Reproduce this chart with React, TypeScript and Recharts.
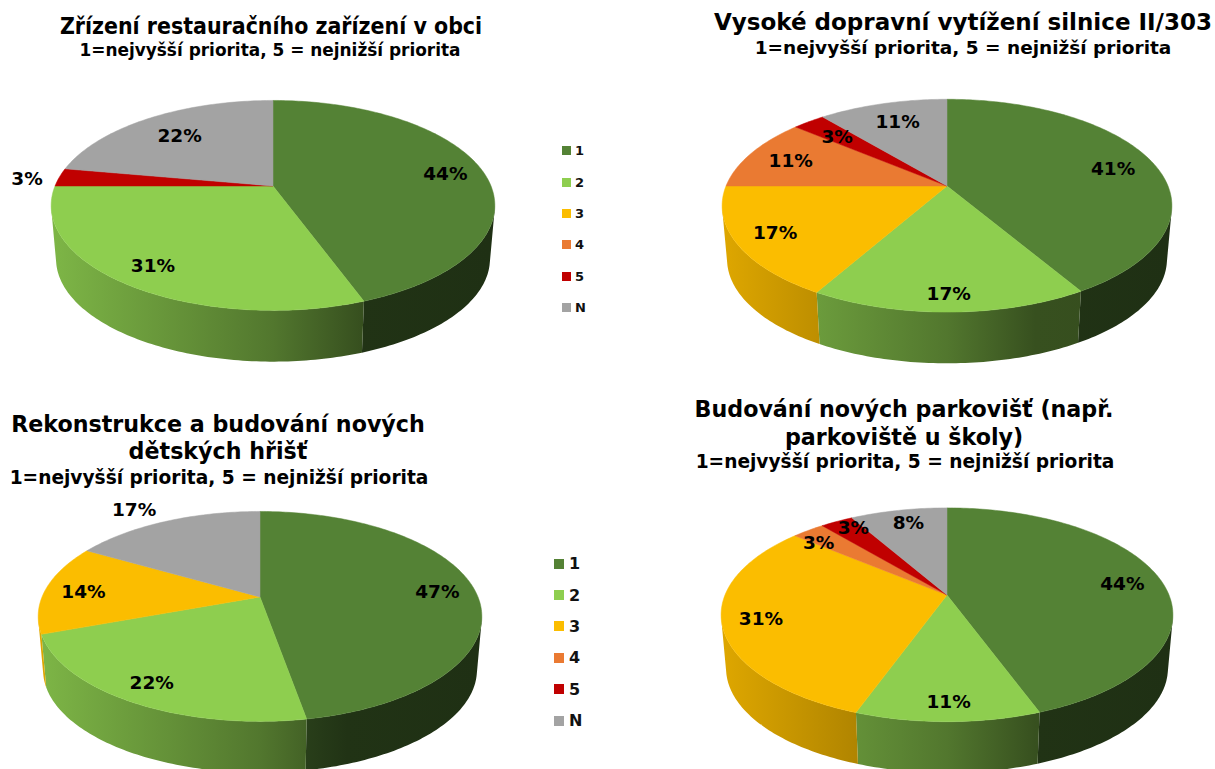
import { PieChart, Pie, Legend } from 'recharts';

const CATEGORIES = ['1', '2', '3', '4', '5', 'N'];
const PALETTE = ['#548235', '#8ECE4F', '#FBBD00', '#EA7A32', '#C00000', '#A3A3A3'];

// answers out of 36 respondents, as percentages
const RESTAURACE = [44.4, 30.6, 0, 0, 2.8, 22.2];
const DOPRAVA = [41.49, 16.75, 16.76, 11.1, 2.8, 11.1];
const HRISTE = [47.2, 22.2, 13.9, 0, 0, 16.7];
const PARKOVISTE = [44.4, 11.1, 30.6, 2.8, 2.8, 8.3];

const SUBTITLE = '1=nejvyšší priorita, 5 = nejnižší priorita';
const FONT = '"DejaVu Sans", Verdana, sans-serif';

// perspective of the tilted disc
const TILT = 0.185;
const FLATTEN = 0.465;
const WALL_SHRINK = 0.978;
const WALL_DROP = 54;

const rim = (R: number, clockDeg: number, f = 1) => {
  const a = (clockDeg * Math.PI) / 180;
  const u = Math.sin(a) * f;
  const v = -Math.cos(a) * f;
  const w = 1 - TILT * v;
  return { x: (R * u) / w, y: (R * FLATTEN * v) / w };
};

const arcPoints = (R: number, startAngle: number, endAngle: number) => {
  const from = 90 - startAngle;
  const to = 90 - endAngle;
  const pts = [];
  const steps = Math.max(2, Math.ceil(to - from));
  for (let i = 0; i <= steps; i++) pts.push(rim(R, from + ((to - from) * i) / steps));
  return pts;
};

const shade = (hex: string, f: number) => {
  const n = parseInt(hex.slice(1), 16);
  const c = [(n >> 16) & 255, (n >> 8) & 255, n & 255].map((v) => Math.round(v * f));
  return `rgb(${c[0]},${c[1]},${c[2]})`;
};

const TopSlice = (props: any) => {
  const { cx, cy, outerRadius, startAngle, endAngle, fill } = props;
  if (startAngle === endAngle) return <g />;
  const pts = arcPoints(outerRadius, startAngle, endAngle);
  const d = `M${cx},${cy} ` + pts.map((p) => `L${cx + p.x},${cy + p.y}`).join(' ') + ' Z';
  return <path d={d} fill={fill} stroke={fill} strokeWidth={0.5} />;
};

// one quad per step in a single path, same winding, only on the visible front of the rim
const wallSlice = (prefix: string) => (props: any) => {
  const { cx, cy, outerRadius, startAngle, endAngle, index } = props;
  if (startAngle === endAngle) return <g />;
  const pts = arcPoints(outerRadius, startAngle, endAngle);
  const yLimit = (outerRadius * FLATTEN * TILT) / (1 - TILT * TILT);
  const d: string[] = [];
  pts.slice(1).forEach((p, i) => {
    const q = pts[i];
    if (Math.max(p.y, q.y) < yLimit) return;
    let quad = [
      [cx + q.x, cy + q.y],
      [cx + p.x, cy + p.y],
      [cx + p.x * WALL_SHRINK, cy + p.y * WALL_SHRINK + WALL_DROP],
      [cx + q.x * WALL_SHRINK, cy + q.y * WALL_SHRINK + WALL_DROP],
    ];
    const area = quad.reduce((s, a, j) => {
      const b = quad[(j + 1) % 4];
      return s + a[0] * b[1] - b[0] * a[1];
    }, 0);
    if (area < 0) quad = quad.reverse();
    d.push('M' + quad.map((c) => c.join(',')).join(' L') + ' Z');
  });
  if (!d.length) return <g />;
  return <path d={d.join(' ')} fill={`url(#${prefix}-${index})`} fillRule="nonzero" />;
};

function PriorityLegend({ payload, size, swatch, gap }: any) {
  const rows = (payload || []).filter((p: any) => p.type !== 'none');
  return (
    <div style={{ fontFamily: FONT, fontWeight: 700, fontSize: size, color: '#111' }}>
      {rows.map((p: any) => (
        <div key={p.value} style={{ display: 'flex', alignItems: 'center', height: 31.4, gap }}>
          <span style={{ width: swatch, height: swatch, background: p.color, display: 'inline-block' }} />
          {p.value}
        </div>
      ))}
    </div>
  );
}

function Disc({ id, values, left, top, width, height, cx, cy, R, radii, nudges, legend }: any) {
  const data = CATEGORIES.map((name, i) => ({ name, value: values[i], fill: PALETTE[i] }));

  const renderLabel = (p: any) => {
    if (!p.value) return null;
    const f = radii[p.index] ?? 0.79;
    const pos = rim(p.outerRadius, 90 - p.midAngle, f);
    const [dx, dy] = nudges[p.index] ?? [0, 0];
    return (
      <text
        key={p.index}
        x={p.cx + pos.x + dx}
        y={p.cy + pos.y + dy}
        textAnchor="middle"
        dominantBaseline="central"
        fontFamily={FONT}
        fontWeight={700}
        fontSize={18.5}
        fill="#000"
      >
        {Math.round(p.percent * 100)}%
      </text>
    );
  };

  return (
    <div style={{ position: 'absolute', left, top }}>
      <PieChart width={width} height={height} margin={{ top: 0, right: 0, bottom: 0, left: 0 }}>
        <defs>
          {PALETTE.map((c, i) => (
            <linearGradient
              key={c}
              id={`${id}-${i}`}
              gradientUnits="userSpaceOnUse"
              x1={cx - R}
              x2={cx + R}
              y1={0}
              y2={0}
            >
              <stop offset="0" stopColor={shade(c, 0.88)} />
              <stop offset="0.5" stopColor={shade(c, 0.58)} />
              <stop offset="0.7" stopColor={shade(c, 0.39)} />
              <stop offset="1" stopColor={shade(c, 0.37)} />
            </linearGradient>
          ))}
        </defs>
        <Pie
          data={data}
          dataKey="value"
          nameKey="name"
          cx={cx}
          cy={cy}
          outerRadius={R}
          startAngle={90}
          endAngle={-270}
          legendType="none"
          stroke="none"
          isAnimationActive={false}
          shape={wallSlice(id)}
        />
        <Pie
          data={data}
          dataKey="value"
          nameKey="name"
          cx={cx}
          cy={cy}
          outerRadius={R}
          startAngle={90}
          endAngle={-270}
          legendType="square"
          stroke="none"
          isAnimationActive={false}
          shape={TopSlice}
          label={renderLabel}
          labelLine={false}
        />
        {legend && (
          <Legend
            layout="vertical"
            align="right"
            verticalAlign="top"
            wrapperStyle={{ left: legend.left, top: legend.top, right: 'auto', width: 60 }}
            content={<PriorityLegend size={legend.size} swatch={legend.swatch} gap={legend.gap} />}
          />
        )}
      </PieChart>
    </div>
  );
}

function Title({ lines }: any) {
  return (
    <>
      {lines.map((l: any) => (
        <div
          key={l.text + l.y}
          style={{
            position: 'absolute',
            left: l.x,
            top: l.y,
            transform: `translate(-50%, -50%) scaleX(${l.sx ?? 1})`,
            whiteSpace: 'nowrap',
            fontFamily: FONT,
            fontWeight: 700,
            fontSize: l.size,
            color: '#000',
          }}
        >
          {l.text}
        </div>
      ))}
    </>
  );
}

export default function App() {
  return (
    <div
      style={{
        position: 'absolute',
        left: 0,
        top: 0,
        width: 1215,
        height: 769,
        background: '#fff',
        overflow: 'hidden',
      }}
    >
      <Disc
        id="a"
        values={RESTAURACE}
        left={0}
        top={0}
        width={607}
        height={384}
        cx={273}
        cy={186}
        R={218}
        radii={{ 4: 1.13 }}
        nudges={{ 0: [7, 1], 1: [-8, 5], 4: [-5, 2], 5: [6, 5] }}
        legend={{ left: 562, top: 135, size: 13, swatch: 9, gap: 4 }}
      />
      <Disc
        id="b"
        values={DOPRAVA}
        left={607}
        top={0}
        width={608}
        height={384}
        cx={340}
        cy={186}
        R={221}
        radii={{}}
        nudges={{ 0: [4, 3], 1: [0, 12], 2: [-9, 2], 3: [0, 1], 4: [2, 3], 5: [3, 3] }}
      />
      <Disc
        id="c"
        values={HRISTE}
        left={0}
        top={384}
        width={607}
        height={385}
        cx={260}
        cy={213}
        R={218}
        radii={{ 5: 1.2 }}
        nudges={{ 0: [8, 1], 1: [-10, 6], 2: [-7, 1], 5: [-16, 1] }}
        legend={{ left: 554, top: 164, size: 16, swatch: 10, gap: 5 }}
      />
      <Disc
        id="d"
        values={PARKOVISTE}
        left={607}
        top={384}
        width={608}
        height={385}
        cx={340}
        cy={211}
        R={222}
        radii={{}}
        nudges={{ 0: [7, 2], 1: [1, 11], 2: [-10, 1], 3: [-16, 0], 4: [-4, -8], 5: [1, -3] }}
      />
      <Title
        lines={[
          { text: 'Zřízení restauračního zařízení v obci', x: 271, y: 26, size: 23, sx: 0.895 },
          { text: SUBTITLE, x: 270, y: 49, size: 18, sx: 0.94 },
          { text: 'Vysoké dopravní vytížení silnice II/303', x: 963, y: 22, size: 23 },
          { text: SUBTITLE, x: 963, y: 47, size: 18.5 },
          { text: 'Rekonstrukce a budování nových', x: 218, y: 424, size: 22.2 },
          { text: 'dětských hřišť', x: 218, y: 451, size: 22.2 },
          { text: SUBTITLE, x: 219, y: 477, size: 18.6 },
          { text: 'Budování nových parkovišť (např.', x: 904, y: 409, size: 22.2 },
          { text: 'parkoviště u školy)', x: 904, y: 437, size: 22.2 },
          { text: SUBTITLE, x: 905, y: 461, size: 18.6 },
        ]}
      />
    </div>
  );
}
